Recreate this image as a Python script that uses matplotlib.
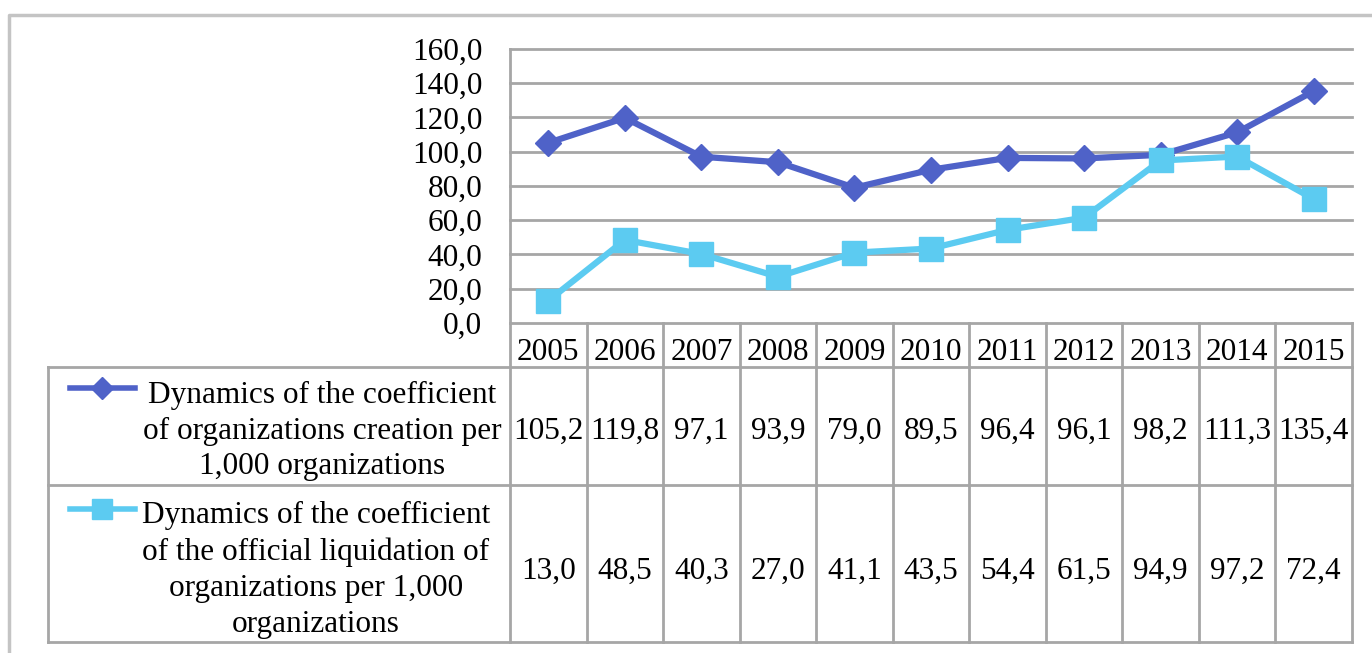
import numpy as np
import matplotlib
matplotlib.use("Agg")
import matplotlib.pyplot as plt
from matplotlib.transforms import blended_transform_factory

plt.rcParams['font.family'] = ['Liberation Serif', 'DejaVu Serif']

# data
years = ['2005', '2006', '2007', '2008', '2009', '2010',
         '2011', '2012', '2013', '2014', '2015']
creation = [105.2, 119.8, 97.1, 93.9, 79.0, 89.5, 96.4, 96.1, 98.2, 111.3, 135.4]
liquidation = [13.0, 48.5, 40.3, 27.0, 41.1, 43.5, 54.4, 61.5, 94.9, 97.2, 72.4]
label_creation = "Dynamics of the coefficient\nof organizations creation per\n1,000 organizations"
label_liquidation = ("Dynamics of the coefficient\nof the official liquidation of\n"
                     "organizations per 1,000\norganizations")

dark = '#4F62C8'
light = '#5CCBF1'
grid_col = '#A6A6A6'
fs = 22.5

W, H = 1372, 653
fig = plt.figure(figsize=(W / 100, H / 100), dpi=100)

# background axes in pixel units (border + table)
bg = fig.add_axes([0, 0, 1, 1])
bg.set_xlim(0, W)
bg.set_ylim(H, 0)
bg.axis('off')

# plot area
x0, x1 = 510, 1352
y_top, y_bot = 49, 323
ax = fig.add_axes([x0 / W, 1 - y_bot / H, (x1 - x0) / W, (y_bot - y_top) / H])
x = np.arange(len(years))
ax.set_xlim(-0.5, len(years) - 0.5)
ax.set_ylim(0, 160)
yt = np.arange(0, 161, 20)
ax.set_yticks(yt)
ax.set_yticklabels([('%.1f' % v).replace('.', ',') for v in yt])
ax.set_xticks([])
ax.tick_params(axis='y', length=0, pad=20, labelsize=fs)
for v in yt[1:]:
    ax.axhline(v, color=grid_col, lw=2, zorder=1, clip_on=False)
for s in ['top', 'right']:
    ax.spines[s].set_visible(False)
for s in ['left', 'bottom']:
    ax.spines[s].set_color(grid_col)
    ax.spines[s].set_linewidth(2)
ax.patch.set_alpha(0)

ax.plot(x, creation, color=dark, lw=4.5, marker='D', ms=13.5, zorder=3, clip_on=False)
ax.plot(x, liquidation, color=light, lw=4.5, marker='s', ms=17, zorder=4, clip_on=False)

# outer border
bg.plot([9, 9, W], [H, 15, 15], color='#C4C4C4', lw=2.5)

# table lines
tl = 48
r_head, r1, r2, r3 = 323, 367, 485, 642
col_w = (x1 - x0) / len(years)
kw = dict(color=grid_col, lw=2)
for yy in [r1, r2, r3]:
    bg.plot([tl, x1], [yy, yy], **kw)
bg.plot([tl, tl], [r1, r3], **kw)
for i in range(len(years) + 1):
    xx = x0 + i * col_w
    bg.plot([xx, xx], [r_head, r3], **kw)

# table text, columns follow the plot's x scale
tr = blended_transform_factory(ax.transData, bg.transData)
for i, yr in enumerate(years):
    bg.text(i, 352, yr, transform=tr, ha='center', va='center', fontsize=fs)
    bg.text(i, 431, ('%.1f' % creation[i]).replace('.', ','), transform=tr,
            ha='center', va='center', fontsize=fs)
    bg.text(i, 571, ('%.1f' % liquidation[i]).replace('.', ','), transform=tr,
            ha='center', va='center', fontsize=fs)

# row labels with legend keys
bg.text(322, 431, label_creation, ha='center', va='center', fontsize=fs, linespacing=1.31)
bg.text(316, 570, label_liquidation, ha='center', va='center', fontsize=fs, linespacing=1.31)
bg.plot([70, 135], [388, 388], color=dark, lw=4)
bg.plot([102], [388], color=dark, marker='D', ms=11)
bg.plot([70, 135], [509, 509], color=light, lw=4)
bg.plot([102], [509], color=light, marker='s', ms=15)

fig.savefig('out.png', dpi=100)
